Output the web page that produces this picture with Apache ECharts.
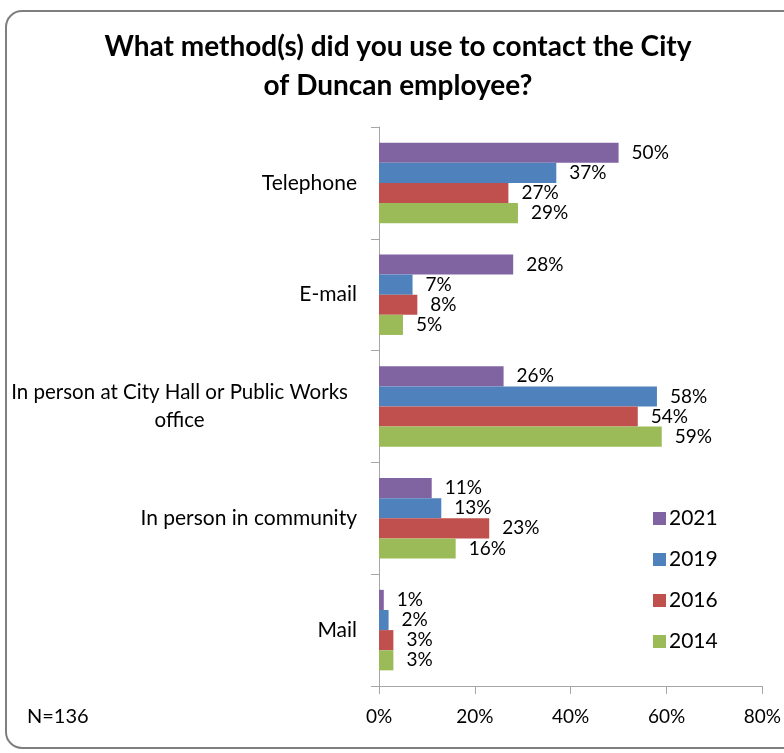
<!DOCTYPE html>
<html>
<head>
<meta charset="utf-8">
<script src="https://cdn.jsdelivr.net/npm/echarts@6/dist/echarts.min.js"></script>
<style>
  html, body { margin: 0; padding: 0; background: #fff; }
  #chart { width: 784px; height: 753px; }
</style>
</head>
<body>
<div id="chart"></div>
<script>
// Contact methods (top to bottom) and the share of respondents per survey year
const categories = [
  'Telephone',
  'E-mail',
  'In person at City Hall or Public Works office',
  'In person in community',
  'Mail'
];
const years = ['2021', '2019', '2016', '2014'];
const values2021 = [50, 28, 26, 11, 1];
const values2019 = [37, 7, 58, 13, 2];
const values2016 = [27, 8, 54, 23, 3];
const values2014 = [29, 5, 59, 16, 3];
const xTicks = [0, 20, 40, 60, 80];
const colors = ['#8064A2', '#4F81BD', '#C0504D', '#9BBB59'];

const seriesValues = [values2021, values2019, values2016, values2014];
const FONT = 'Lato, "Open Sans", sans-serif';

const chart = echarts.init(document.getElementById('chart'), null, { renderer: 'canvas' });

chart.setOption({
  backgroundColor: '#ffffff',
  animation: false,
  textStyle: { fontFamily: FONT },
  graphic: [
    {
      type: 'rect',
      shape: { x: 6, y: 11, width: 800, height: 737, r: 16 },
      style: { fill: 'none', stroke: '#7f7f7f', lineWidth: 2 },
      z: -1
    },
    {
      type: 'text',
      x: 398, y: 27,
      style: {
        text: 'What method(s) did you use to contact the City\nof Duncan employee?',
        font: 'bold 28px ' + FONT,
        lineHeight: 39,
        align: 'center',
        verticalAlign: 'top',
        fill: '#000'
      }
    },
    {
      type: 'text',
      x: 27, y: 707,
      style: { text: 'N=136', font: '20px ' + FONT, fill: '#000', verticalAlign: 'top' }
    }
  ],
  legend: {
    orient: 'vertical',
    left: 648,
    top: 503,
    itemWidth: 13,
    itemHeight: 13,
    itemGap: 20,
    icon: 'rect',
    textStyle: { fontFamily: FONT, fontSize: 21, color: '#000', padding: [0, 0, 0, -2] },
    data: years
  },
  grid: { left: 379, right: 21, top: 127, bottom: 67, containLabel: false },
  xAxis: {
    type: 'value',
    min: xTicks[0],
    max: xTicks[xTicks.length - 1],
    interval: 20,
    splitLine: { show: false },
    axisLine: { show: true, lineStyle: { color: '#a6a6a6' } },
    axisTick: { show: true, length: 8, lineStyle: { color: '#a6a6a6' } },
    axisLabel: {
      formatter: v => v + '%',
      fontFamily: FONT, fontSize: 19, color: '#000', margin: 21
    }
  },
  yAxis: {
    type: 'category',
    inverse: true,
    data: categories,
    axisLine: { show: true, lineStyle: { color: '#a6a6a6' } },
    axisTick: { show: true, length: 8, lineStyle: { color: '#a6a6a6' } },
    axisLabel: {
      fontFamily: FONT, fontSize: 21, color: '#000', margin: 22,
      align: 'right',
      lineHeight: 28,
      formatter: v => {
        if (v.indexOf('Public Works') >= 0) {
          return '{c|In person at City Hall or Public Works}\n{c|office}';
        }
        return v;
      },
      rich: {
        c: { align: 'center', fontFamily: FONT, fontSize: 20.5, color: '#000', lineHeight: 28, padding: [0, 9, 0, 0] }
      }
    }
  },
  series: years.map((y, i) => ({
    name: y,
    type: 'bar',
    data: seriesValues[i],
    barGap: '0%',
    barCategoryGap: '28%',
    itemStyle: { color: colors[i] },
    label: {
      show: true,
      position: 'right',
      distance: 13,
      formatter: p => p.value + '%',
      fontFamily: FONT, fontSize: 19, color: '#000'
    }
  }))
});
</script>
</body>
</html>
